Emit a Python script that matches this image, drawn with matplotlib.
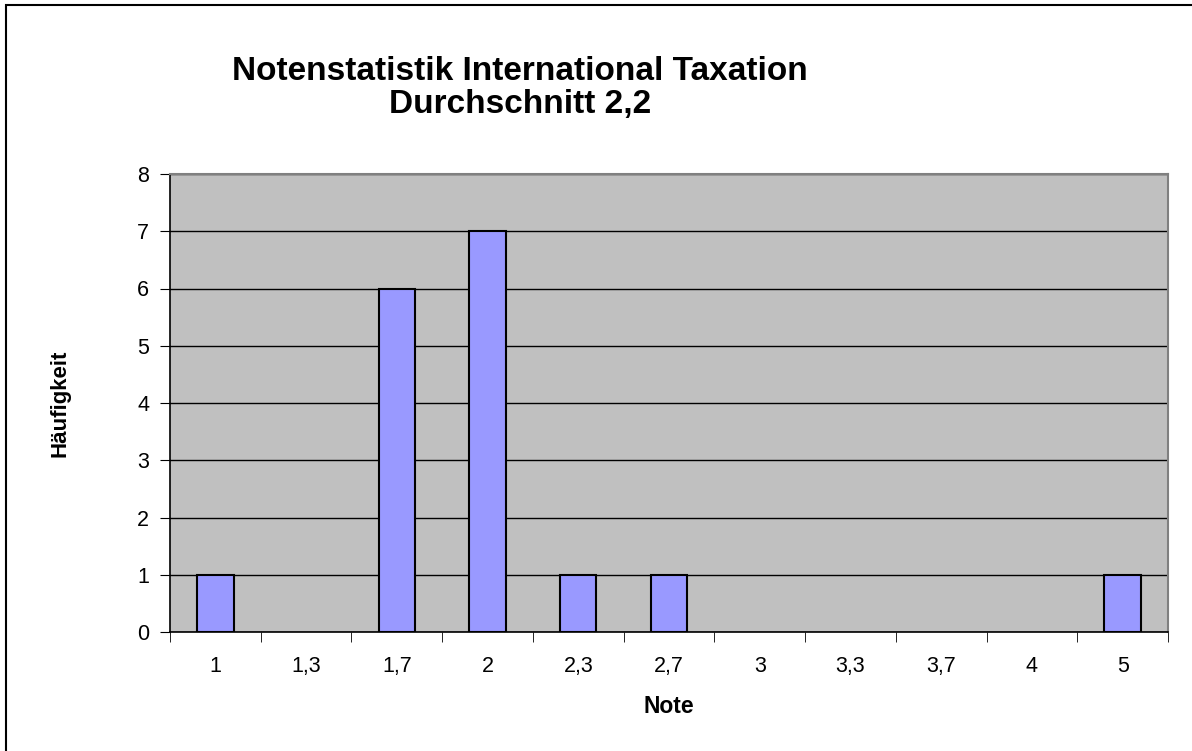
import matplotlib
matplotlib.use("Agg")
import matplotlib.pyplot as plt
from matplotlib.patches import Rectangle
import numpy as np

plt.rcParams['font.family'] = ['Liberation Sans', 'DejaVu Sans']

categories = ["1", "1,3", "1,7", "2", "2,3", "2,7", "3", "3,3", "3,7", "4", "5"]
counts = [1, 0, 6, 7, 1, 1, 0, 0, 0, 0, 1]
title = "Notenstatistik International Taxation\nDurchschnitt 2,2"

W, H = 1192, 751
fig = plt.figure(figsize=(W / 100, H / 100), dpi=100)
fig.patch.set_facecolor('white')

# outer frame (only left/top edges visible in reference)
fig.patches.append(Rectangle((6 / W, -0.1), 1.2, (H - 5) / H + 0.1, transform=fig.transFigure,
                             fill=False, edgecolor='black', linewidth=1.5))

ax = fig.add_axes([170 / W, 1 - 632 / H, (1168 - 170) / W, (632 - 174) / H])
ax.set_facecolor('#C0C0C0')

x = np.arange(len(categories))
lws = [1.5 if c > 0 else 0 for c in counts]
ax.bar(x, counts, width=0.4, color='#9999FF', edgecolor='black', linewidth=lws, zorder=3)

ax.set_xlim(-0.5, len(categories) - 0.5)
ax.set_ylim(0, 8)
ax.set_yticks(range(0, 9))
ax.yaxis.grid(True, color='black', linewidth=1)
ax.set_axisbelow(True)

ax.set_xticks(x)
ax.set_xticklabels(categories)
ax.set_xticks(np.arange(-0.5, len(categories)), minor=True)
ax.tick_params(axis='x', which='major', length=0, pad=17, labelsize=15.5)
ax.tick_params(axis='x', which='minor', length=7, direction='out', color='black')
ax.tick_params(axis='y', length=7, direction='out', pad=8, labelsize=15.5)

for s in ['left', 'bottom']:
    ax.spines[s].set_color('black')
    ax.spines[s].set_linewidth(1.2)
for s in ['top', 'right']:
    ax.spines[s].set_color('#808080')
    ax.spines[s].set_linewidth(1.5)

ax.set_xlabel("Note", fontsize=16.5, fontweight='bold', labelpad=13)
ax.set_ylabel("Häufigkeit", fontsize=16, fontweight='bold', labelpad=48)

fig.text(520 / W, 1 - 88 / H, title, ha='center', va='center', fontsize=24,
         fontweight='bold', linespacing=1.1)

fig.savefig("out.png", dpi=100)
